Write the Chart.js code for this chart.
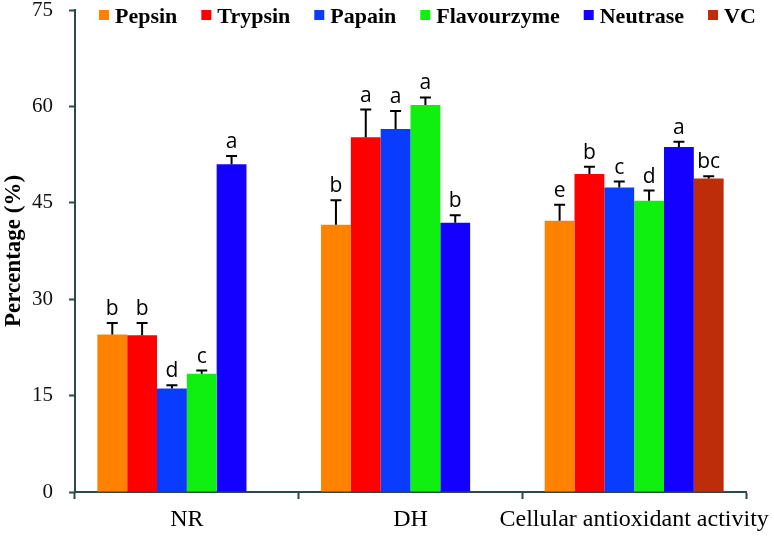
<!DOCTYPE html>
<html>
<head>
<meta charset="utf-8">
<script src="https://cdn.jsdelivr.net/npm/chart.js@4/dist/chart.umd.min.js"></script>
<style>
  body { margin: 0; background: #fff; }
  #wrap { width: 774px; height: 537px; position: relative; }
</style>
</head>
<body>
<div id="wrap"><canvas id="chart"></canvas></div>
<script>
"use strict";

// Kategorier och serier
const categories = ["NR", "DH", "Cellular antioxidant activity"];
const enzymes = ["Pepsin", "Trypsin", "Papain", "Flavourzyme", "Neutrase", "VC"];
const colors = ["#FF8200", "#FF0000", "#0A3CFF", "#10F010", "#1400FF", "#BE2D0A"];

const pepsin = [24.5, 41.6, 42.2];
const trypsin = [24.4, 55.2, 49.5];
const papain = [16.1, 56.5, 47.4];
const flavourzyme = [18.4, 60.2, 45.3];
const neutrase = [51.0, 41.9, 53.7];
const vc = [null, null, 48.8];

// Standardavvikelser (endast övre del ritas)
const pepsinErr = [1.8, 3.8, 2.5];
const trypsinErr = [1.9, 4.3, 1.1];
const papainErr = [0.5, 2.8, 0.9];
const flavourzymeErr = [0.5, 1.2, 1.6];
const neutraseErr = [1.3, 1.15, 0.8];
const vcErr = [null, null, 0.35];

// Signifikansbokstäver
const pepsinSig = ["b", "b", "e"];
const trypsinSig = ["b", "a", "b"];
const papainSig = ["d", "a", "c"];
const flavourzymeSig = ["c", "a", "d"];
const neutraseSig = ["a", "b", "a"];
const vcSig = [null, null, "bc"];

const yTicks = [0, 15, 30, 45, 60, 75];

const values = [pepsin, trypsin, papain, flavourzyme, neutrase, vc];
const errors = [pepsinErr, trypsinErr, papainErr, flavourzymeErr, neutraseErr, vcErr];
const letters = [pepsinSig, trypsinSig, papainSig, flavourzymeSig, neutraseSig, vcSig];

const axisColor = "#2F4848";
const serif = "'Liberation Serif', 'Times New Roman', serif";

// Felstaplar + bokstäver
const errorBarPlugin = {
    id: "errorBars",
    afterDatasetsDraw(chart) {
        const ctx = chart.ctx;
        const y = chart.scales.y;
        ctx.save();
        chart.data.datasets.forEach((ds, i) => {
            const meta = chart.getDatasetMeta(i);
            meta.data.forEach((bar, j) => {
                const v = ds.data[j];
                if (v === null) return;
                const top = y.getPixelForValue(v + errors[i][j]);
                ctx.strokeStyle = "#000";
                ctx.lineWidth = 2;
                ctx.beginPath();
                ctx.moveTo(bar.x, bar.y);
                ctx.lineTo(bar.x, top);
                ctx.moveTo(bar.x - 5.5, top);
                ctx.lineTo(bar.x + 5.5, top);
                ctx.stroke();
                ctx.fillStyle = "#000";
                ctx.font = "21px 'Open Sans', sans-serif";
                ctx.textAlign = "center";
                ctx.textBaseline = "alphabetic";
                ctx.fillText(letters[i][j], bar.x, top - 8);
            });
        });
        ctx.restore();
    }
};

// Legend inuti diagramytan
const legendPlugin = {
    id: "topLegend",
    afterDraw(chart) {
        const ctx = chart.ctx;
        ctx.save();
        ctx.font = "bold 22px " + serif;
        ctx.textBaseline = "alphabetic";
        ctx.textAlign = "left";
        let x = 99;
        chart.data.datasets.forEach(ds => {
            ctx.fillStyle = ds.backgroundColor;
            ctx.fillRect(x, 10, 10, 10);
            ctx.fillStyle = "#000";
            ctx.fillText(ds.label, x + 16, 22.5);
            x += 16 + ctx.measureText(ds.label).width + 24;
        });
        ctx.restore();
    }
};

const ctx = document.getElementById("chart").getContext("2d");
new Chart(ctx, {
    type: "bar",
    data: {
        labels: categories,
        datasets: enzymes.map((name, i) => ({
            label: name,
            data: values[i],
            backgroundColor: colors[i],
            borderWidth: 0
        }))
    },
    options: {
        responsive: true,
        maintainAspectRatio: false,
        animation: false,
        layout: { padding: { top: 10, right: 28, left: 0, bottom: 0 } },
        datasets: { bar: { categoryPercentage: 0.8, barPercentage: 1.0 } },
        plugins: {
            legend: { display: false },
            tooltip: { enabled: false }
        },
        scales: {
            x: {
                offset: true,
                afterFit: s => {
                    s.height = 45;
                    s.paddingLeft = 0;
                    s.paddingRight = 0;
                },
                grid: {
                    drawOnChartArea: false,
                    offset: true,
                    tickLength: 7,
                    tickWidth: 2,
                    tickColor: axisColor
                },
                border: { color: axisColor, width: 2 },
                ticks: {
                    color: "#000",
                    padding: 6,
                    autoSkip: false,
                    maxRotation: 0,
                    font: { family: serif, size: 24 }
                }
            },
            y: {
                min: 0,
                max: 75,
                afterFit: s => {
                    s.width = 75;
                    s.paddingTop = 0;
                    s.paddingBottom = 0;
                },
                afterBuildTicks: s => { s.ticks = yTicks.map(v => ({ value: v })); },
                grid: {
                    drawOnChartArea: false,
                    tickLength: 6,
                    tickWidth: 2,
                    tickColor: axisColor
                },
                border: { color: axisColor, width: 2 },
                ticks: {
                    color: "#111",
                    padding: 16,
                    font: { family: serif, size: 21 }
                },
                title: {
                    display: true,
                    text: "Percentage (%)",
                    color: "#000",
                    padding: 0,
                    font: { family: serif, size: 23, weight: "bold" }
                }
            }
        }
    },
    plugins: [errorBarPlugin, legendPlugin]
});
</script>
</body>
</html>
